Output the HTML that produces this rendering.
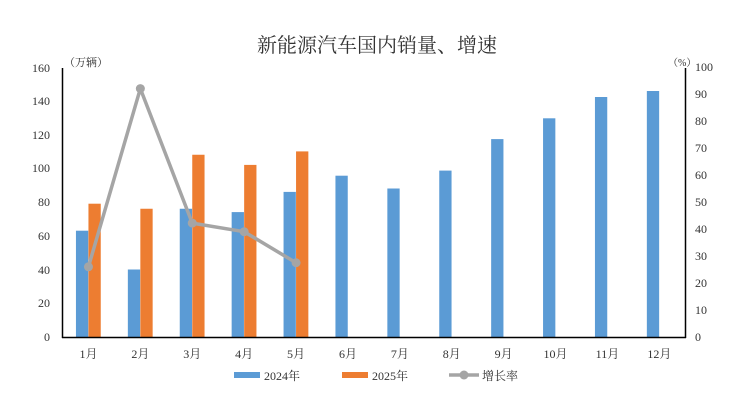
<!DOCTYPE html>
<html><head><meta charset="utf-8"><style>
html,body{margin:0;padding:0;background:#fff;}
svg{display:block;}
text{font-family:"Liberation Serif","Noto Serif CJK SC",serif;fill:#333;}
</style></head><body>
<svg width="747" height="400" viewBox="0 0 747 400" xmlns="http://www.w3.org/2000/svg">
<text x="377" y="52" font-size="20" text-anchor="middle" fill="#222">新能源汽车国内销量、增速</text>
<text x="64" y="66" font-size="11">（万辆）</text>
<text x="668" y="66" font-size="10">（%）</text>
<g font-size="12" text-anchor="end">
<text x="50" y="341">0</text><text x="50" y="307">20</text><text x="50" y="274">40</text><text x="50" y="240">60</text><text x="50" y="206">80</text><text x="50" y="172">100</text><text x="50" y="139">120</text><text x="50" y="105">140</text><text x="50" y="72">160</text>
</g>
<g font-size="12" text-anchor="start">
<text x="695" y="341">0</text><text x="695" y="314">10</text><text x="695" y="287">20</text><text x="695" y="260">30</text><text x="695" y="233">40</text><text x="695" y="206">50</text><text x="695" y="179">60</text><text x="695" y="152">70</text><text x="695" y="125">80</text><text x="695" y="98">90</text><text x="695" y="71">100</text>
</g>
<g fill="#5B9BD5">
<rect x="75.95" y="230.7" width="12.3" height="106.3"/>
<rect x="127.85" y="269.5" width="12.3" height="67.5"/>
<rect x="179.75" y="208.75" width="12.3" height="128.25"/>
<rect x="231.65" y="212.1" width="12.3" height="124.9"/>
<rect x="283.55" y="191.9" width="12.3" height="145.1"/>
<rect x="335.45" y="175.7" width="12.3" height="161.3"/>
<rect x="387.35" y="188.5" width="12.3" height="148.5"/>
<rect x="439.25" y="170.6" width="12.3" height="166.4"/>
<rect x="491.15" y="139.1" width="12.3" height="197.9"/>
<rect x="543.05" y="118.3" width="12.3" height="218.7"/>
<rect x="594.95" y="97" width="12.3" height="240"/>
<rect x="646.85" y="91" width="12.3" height="246"/>
</g>
<g fill="#ED7D31">
<rect x="88.45" y="203.7" width="12.3" height="133.3"/>
<rect x="140.35" y="208.75" width="12.3" height="128.25"/>
<rect x="192.25" y="154.75" width="12.3" height="182.25"/>
<rect x="244.15" y="164.9" width="12.3" height="172.1"/>
<rect x="296.05" y="151.4" width="12.3" height="185.6"/>
</g>
<path d="M88.45,266.8 L140.35,88.6 L192.25,223.1 L244.15,231.7 L296.05,262.75" fill="none" stroke="#A5A5A5" stroke-width="3.5" stroke-linejoin="round"/>
<g fill="#A5A5A5">
<circle cx="88.45" cy="266.8" r="4.5"/><circle cx="140.35" cy="88.6" r="4.5"/><circle cx="192.25" cy="223.1" r="4.5"/><circle cx="244.15" cy="231.7" r="4.5"/><circle cx="296.05" cy="262.75" r="4.5"/>
</g>
<g font-size="12" text-anchor="middle">
<text x="88.45" y="358">1月</text><text x="140.35" y="358">2月</text><text x="192.25" y="358">3月</text><text x="244.15" y="358">4月</text><text x="296.05" y="358">5月</text><text x="347.95" y="358">6月</text><text x="399.85" y="358">7月</text><text x="451.75" y="358">8月</text><text x="503.65" y="358">9月</text><text x="555.55" y="358">10月</text><text x="607.45" y="358">11月</text><text x="659.35" y="358">12月</text>
</g>
<line x1="62.5" y1="68" x2="62.5" y2="338" stroke="#000" stroke-width="1.5"/>
<line x1="685.5" y1="68" x2="685.5" y2="338" stroke="#000" stroke-width="1.5"/>
<line x1="62" y1="337.5" x2="686" y2="337.5" stroke="#000" stroke-width="1.5"/>
<rect x="234" y="372" width="26" height="6" fill="#5B9BD5"/>
<text x="264" y="380" font-size="12">2024年</text>
<rect x="342" y="372" width="26" height="6" fill="#ED7D31"/>
<text x="372" y="380" font-size="12">2025年</text>
<line x1="449" y1="375" x2="479" y2="375" stroke="#A5A5A5" stroke-width="3.5"/>
<circle cx="464" cy="375" r="4.5" fill="#A5A5A5"/>
<text x="482" y="380" font-size="12">增长率</text>
</svg>
</body></html>
